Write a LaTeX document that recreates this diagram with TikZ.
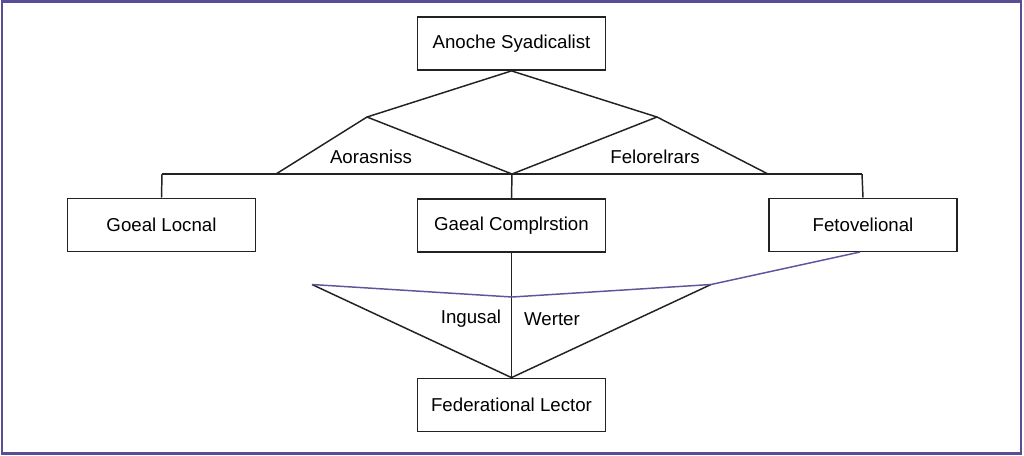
\documentclass[tikz,border=0pt]{standalone}
\usepackage{fontspec}
\setmainfont{Liberation Sans}
\definecolor{framepurple}{RGB}{88,78,150}
\definecolor{linkpurple}{RGB}{92,86,156}
\definecolor{inkgray}{RGB}{34,34,34}
\begin{document}
\begin{tikzpicture}[x=0.75pt,y=-0.75pt,
  box/.style={draw=inkgray, line width=1.1pt, fill=white, minimum width=141pt, minimum height=40pt, inner sep=2pt, font=\fontsize{14}{16}\selectfont},
  edge/.style={draw=inkgray, line width=1.1pt},
  purpleedge/.style={draw=linkpurple, line width=1.1pt},
  lbl/.style={font=\fontsize{14}{16}\selectfont, inner sep=1pt}]
\useasboundingbox (0,0) rectangle (1024,455);
\draw [framepurple, line width=1.6pt] (2,1.5) rectangle (1021,453.5);
% boxes
\node [box] (anoche) at (511.5,43.5) {Anoche Syadicalist};
\node [box] (goeal) at (161.5,225) {Goeal Locnal};
\node [box] (gaeal) at (511.5,225.5) {Gaeal Complrstion};
\node [box] (fetov) at (863,225) {Fetovelional};
\node [box] (feder) at (511.5,405) {Federational Lector};
% junction points
\coordinate (apexL) at (367,117);
\coordinate (apexR) at (657,117);
\coordinate (footL) at (276,174);
\coordinate (footM) at (512,174);
\coordinate (footR) at (768,174);
\coordinate (railL) at (162,174);
\coordinate (railR) at (862,174);
\coordinate (wingL) at (312,284.5);
\coordinate (dip) at (512,297);
\coordinate (wingR) at (711,284.5);
\coordinate (hook) at (860,252);
% upper branches
\draw [edge] (anoche.south) -- (apexL) -- (footL);
\draw [edge] (anoche.south) -- (apexR) -- (footR);
\draw [edge] (apexL) -- (footM) -- (apexR);
\draw [edge] (railL) -- (railR);
\draw [edge] (railL) -- (goeal.north);
\draw [edge] (footM) -- (gaeal.north);
\draw [edge] (railR) -- (fetov.north);
% lower branches
\draw [edge] (gaeal.south) -- (feder.north);
\draw [edge] (wingL) -- (feder.north) -- (wingR);
\draw [purpleedge] (wingL) -- (dip) -- (wingR) -- (hook);
% labels
\node [lbl] (aoras) at (371,157) {Aorasniss};
\node [lbl] (felor) at (655,157) {Felorelrars};
\node [lbl] (ingus) at (471,319) {Ingusal};
\node [lbl] (werter) at (552,319) {Werter};
\end{tikzpicture}
\end{document}
